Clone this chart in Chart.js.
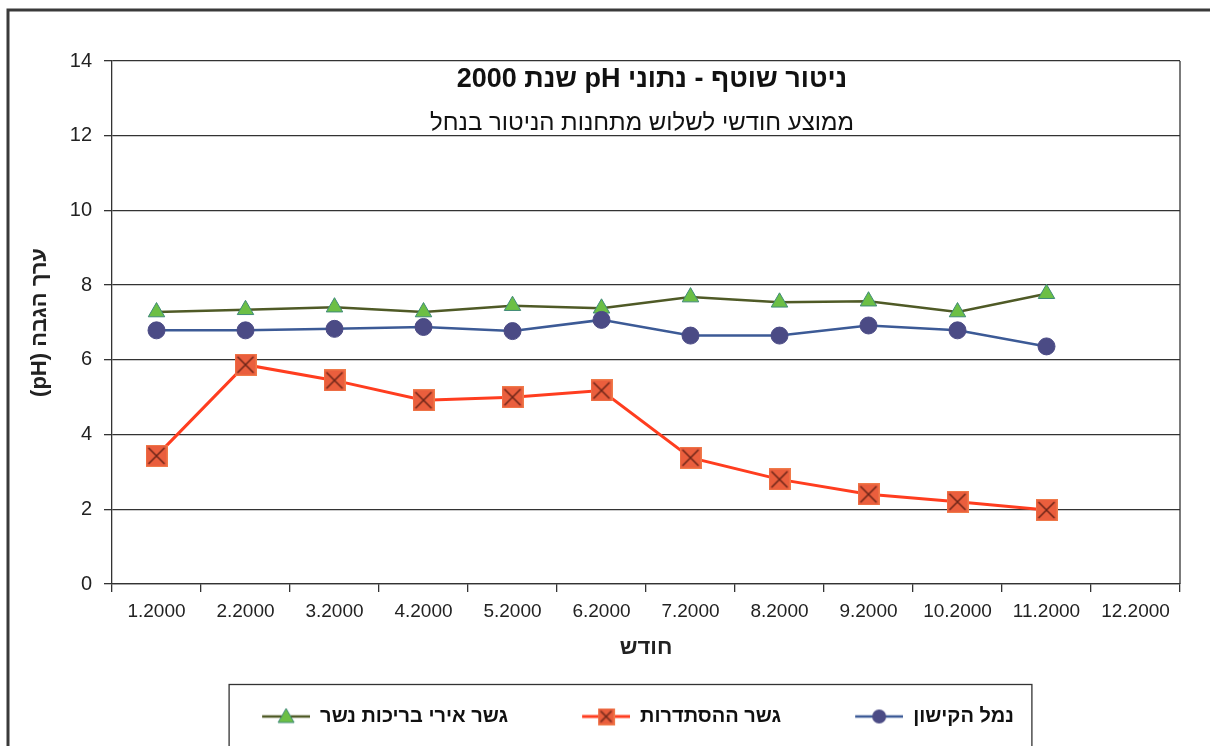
<!DOCTYPE html>
<html><head><meta charset="utf-8">
<script src="https://cdn.jsdelivr.net/npm/chart.js@4/dist/chart.umd.min.js"></script>
<style>html,body{margin:0;padding:0;background:#fff;}canvas{display:block;}</style>
</head><body>
<canvas id="c" width="1210" height="746" dir="rtl"></canvas>
<script>
// ---- data ----
const months = ['1.2000','2.2000','3.2000','4.2000','5.2000','6.2000','7.2000','8.2000','9.2000','10.2000','11.2000','12.2000'];
const kishon    = [6.79, 6.79, 6.83, 6.88, 6.77, 7.07, 6.65, 6.65, 6.92, 6.79, 6.36, null];
const histadrut = [3.43, 5.87, 5.45, 4.92, 5.00, 5.18, 3.38, 2.80, 2.40, 2.20, 1.98, null];
const nesher    = [7.28, 7.34, 7.41, 7.28, 7.45, 7.38, 7.68, 7.54, 7.57, 7.28, 7.77, null];
const seriesNames = ['נמל הקישון', 'גשר ההסתדרות', 'גשר אירי בריכות נשר'];
const yTicks = [0, 2, 4, 6, 8, 10, 12, 14];
const titleText = 'ניטור שוטף - נתוני pH שנת 2000';
const subtitleText = 'ממוצע חודשי לשלוש מתחנות הניטור בנחל';
const xTitleText = 'חודש';
const yTitleText = 'ערך הגבה (pH)';

// ---- styles ----
const FONT = "'Liberation Sans', Arial, sans-serif";
Chart.defaults.font.family = FONT;
Chart.defaults.color = '#222';
const GRID = '#333';
const ICON_MARGIN = 71;

function squareX(size) {
  const c = document.createElement('canvas');
  c.width = size; c.height = size;
  const g = c.getContext('2d');
  g.fillStyle = '#ea5e3d';
  g.fillRect(0, 0, size, size);
  g.strokeStyle = '#f07a4a'; g.lineWidth = 1;
  g.strokeRect(0.5, 0.5, size - 1, size - 1);
  g.strokeStyle = '#6a2418'; g.lineWidth = 1.5;
  g.beginPath();
  g.moveTo(3, 3); g.lineTo(size - 3, size - 3);
  g.moveTo(size - 3, 3); g.lineTo(3, size - 3);
  g.stroke();
  return c;
}
const squareMarker = squareX(22);

function legendIcon(lineColor, lineWidth, kind) {
  const m = ICON_MARGIN, w = 48, h = 22;
  const c = document.createElement('canvas');
  c.width = m + w; c.height = h;
  const g = c.getContext('2d');
  const cy = h / 2, cx = m + w / 2;
  g.strokeStyle = lineColor; g.lineWidth = lineWidth;
  g.beginPath(); g.moveTo(m, cy); g.lineTo(m + w, cy); g.stroke();
  if (kind === 'circle') {
    g.fillStyle = '#4b4b85';
    g.beginPath(); g.arc(cx, cy, 7, 0, Math.PI * 2); g.fill();
  } else if (kind === 'square') {
    g.drawImage(squareX(17), cx - 8.5, cy - 8.5);
  } else {
    g.fillStyle = '#6cbf45'; g.strokeStyle = '#3f8a78'; g.lineWidth = 1;
    g.beginPath(); g.moveTo(cx, cy - 8); g.lineTo(cx + 8, cy + 6); g.lineTo(cx - 8, cy + 6); g.closePath();
    g.fill(); g.stroke();
  }
  return c;
}
const legendIcons = [
  legendIcon('#3c5a96', 2.5, 'circle'),
  legendIcon('#ff3d1f', 3, 'square'),
  legendIcon('#4f5a26', 2.5, 'triangle')
];

const decor = {
  id: 'decor',
  afterDraw(chart) {
    const ctx = chart.ctx, a = chart.chartArea;
    ctx.save();
    ctx.strokeStyle = GRID; ctx.lineWidth = 1.3;
    ctx.beginPath(); ctx.moveTo(a.right, a.top); ctx.lineTo(a.right, a.bottom); ctx.stroke();
    ctx.direction = 'rtl';
    ctx.textAlign = 'center'; ctx.textBaseline = 'middle';
    ctx.fillStyle = '#111';
    const cx = (a.left + a.right) / 2;
    ctx.font = 'bold 27px ' + FONT;
    ctx.fillText(titleText, cx + 6, 80);
    ctx.font = '24px ' + FONT;
    ctx.fillText(subtitleText, cx - 4, 123);
    const lg = chart.legend;
    if (lg && lg.legendHitBoxes && lg.legendHitBoxes.length) {
      const hb = lg.legendHitBoxes;
      const minL = Math.min(...hb.map(h => h.left)) + ICON_MARGIN;
      const maxR = Math.max(...hb.map(h => h.left + h.width));
      const top = hb[0].top - 22;
      ctx.strokeStyle = '#333'; ctx.lineWidth = 1.3;
      ctx.strokeRect(minL - 33, top, (maxR + 18) - (minL - 33), 200);
    }
    ctx.strokeStyle = '#3a3a3a'; ctx.lineWidth = 3;
    ctx.beginPath(); ctx.moveTo(8, 760); ctx.lineTo(8, 10); ctx.lineTo(1215, 10); ctx.stroke();
    ctx.restore();
  }
};

new Chart(document.getElementById('c'), {
  type: 'line',
  data: {
    labels: months,
    datasets: [
      { label: seriesNames[0], data: kishon, borderColor: '#3c5a96', borderWidth: 2.5,
        pointStyle: 'circle', pointRadius: 8.5, pointBackgroundColor: '#4b4b85', pointBorderColor: '#4b4b85', pointBorderWidth: 1 },
      { label: seriesNames[1], data: histadrut, borderColor: '#ff3d1f', borderWidth: 3,
        pointStyle: squareMarker, pointRadius: 11 },
      { label: seriesNames[2], data: nesher, borderColor: '#4f5a26', borderWidth: 2.5,
        pointStyle: 'triangle', pointRadius: 9.5, pointBackgroundColor: '#6cbf45', pointBorderColor: '#3f8a78', pointBorderWidth: 1 }
    ]
  },
  options: {
    responsive: false,
    animation: false,
    layout: { padding: { left: 25, top: 61, right: 30, bottom: 9.5 } },
    scales: {
      x: {
        offset: true,
        ticks: { font: { size: 19 }, color: '#222', padding: 8, maxRotation: 0, autoSkip: false },
        grid: { display: true, drawOnChartArea: false, offset: true, tickLength: 8, color: GRID, lineWidth: 1.3 },
        border: { color: GRID, width: 1.3 },
        title: { display: true, text: xTitleText, font: { size: 22, weight: 'bold' }, color: '#222', padding: { top: 0, bottom: 42 } },
        afterFit(s) { s.height = 119.5; }
      },
      y: {
        min: 0, max: 14,
        afterBuildTicks(s) { s.ticks = yTicks.map(v => ({ value: v })); },
        ticks: { font: { size: 20 }, color: '#222', padding: 12 },
        grid: { color: GRID, lineWidth: 1.3, tickLength: 8 },
        border: { color: GRID, width: 1.3 },
        title: { display: true, text: yTitleText, font: { size: 22, weight: 'bold' }, color: '#222', padding: { top: 2, bottom: 0 } },
        afterFit(s) { s.width = 87; }
      }
    },
    plugins: {
      tooltip: { enabled: false },
      legend: {
        position: 'bottom', fullSize: true, align: 'center', reverse: true,
        labels: {
          usePointStyle: true, pointStyleWidth: ICON_MARGIN + 48, padding: 3,
          font: { size: 20, weight: 'bold' }, color: '#111',
          generateLabels(chart) {
            const items = Chart.defaults.plugins.legend.labels.generateLabels(chart);
            items.forEach(it => { it.pointStyle = legendIcons[it.datasetIndex]; });
            return items;
          }
        }
      }
    }
  },
  plugins: [decor]
});
</script>
</body></html>
